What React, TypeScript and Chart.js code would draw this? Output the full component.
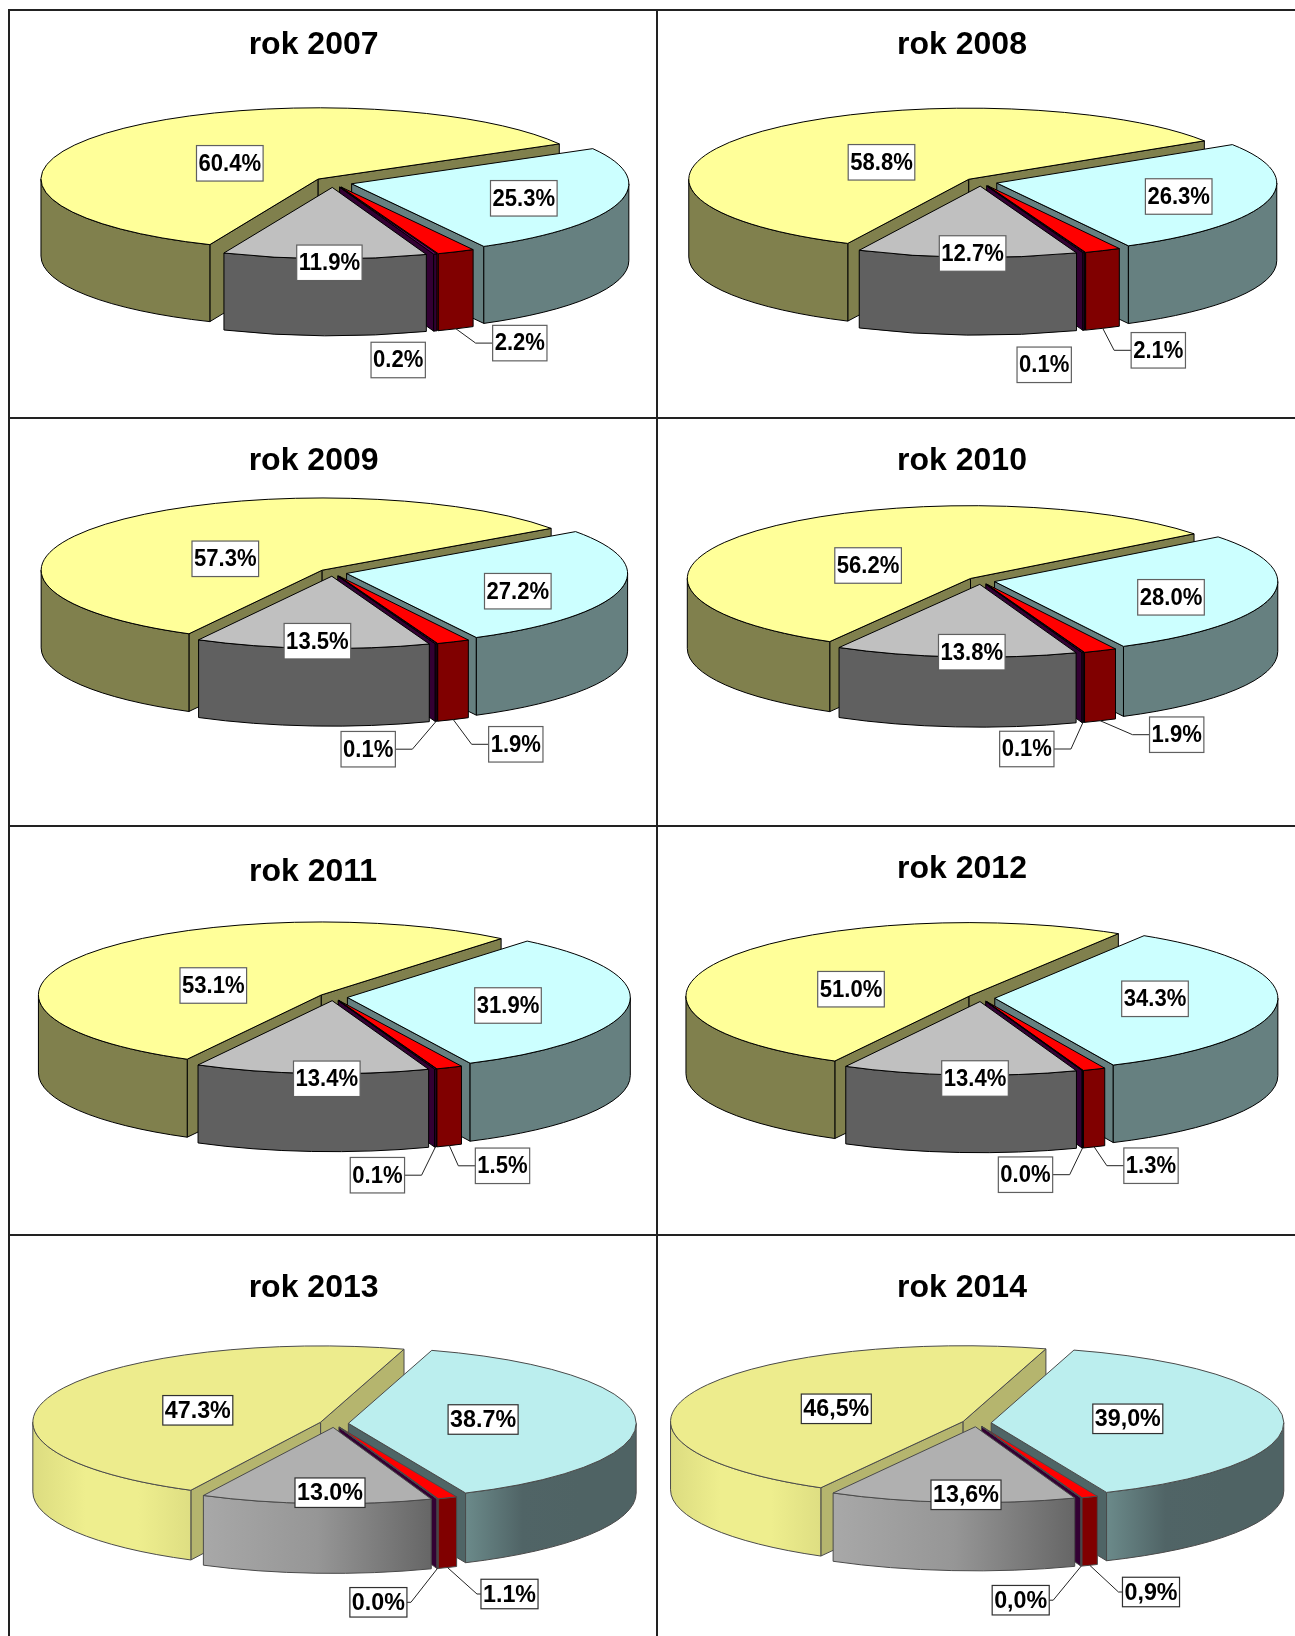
import React, { useEffect, useRef } from "react";
import { Chart, registerables } from "chart.js";

Chart.register(...registerables);

// ---- data ----
const categories = ["kategoria 1", "kategoria 2", "kategoria 3", "kategoria 4", "kategoria 5"];
const years = [2007, 2008, 2009, 2010, 2011, 2012, 2013, 2014];
const values2007 = [60.4, 25.3, 2.2, 0.2, 11.9];
const values2008 = [58.8, 26.3, 2.1, 0.1, 12.7];
const values2009 = [57.3, 27.2, 1.9, 0.1, 13.5];
const values2010 = [56.2, 28.0, 1.9, 0.1, 13.8];
const values2011 = [53.1, 31.9, 1.5, 0.1, 13.4];
const values2012 = [51.0, 34.3, 1.3, 0.04, 13.4];
const values2013 = [47.3, 38.7, 1.1, 0.04, 13.0];
const values2014 = [46.5, 39.0, 0.9, 0.04, 13.6];
const allValues = [values2007, values2008, values2009, values2010, values2011, values2012, values2013, values2014];

// ---- layout (page pixels) ----
const panelLeft = [10, 658];
const panelTop = [11, 419, 827, 1236];
const panelBottom = [417, 825, 1234, 1636];
const panelRight = [656, 1295];
const titlePos = [[313.6, 45], [962, 45], [313.6, 461], [962, 461], [313, 872], [962, 869], [313.6, 1288.5], [962, 1288.5]];
// centre x, centre y, radius, squash, depth, explosion, rotation of first slice (deg)
const pieGeom = [
  [332.8, 182.4, 277.2, 0.257, 77, 19.6, 203],
  [981, 182, 280, 0.254, 77.7, 16.3, 205.6],
  [332.8, 572.6, 281, 0.257, 77.7, 14.2, 208.3],
  [981, 580.8, 283.2, 0.257, 70, 13.9, 209.8],
  [333.2, 997, 282.9, 0.258, 78, 14.3, 208.3],
  [981, 998, 283.1, 0.26, 77.5, 13.8, 208.3],
  [334, 1423.6, 287.8, 0.265, 69.7, 14.4, 206.8],
  [976.6, 1423, 292.6, 0.259, 68.3, 14.6, 209.1],
];
// label box centres, slice order: yellow, cyan, red, purple, grey
const labelPos = [
  [[229.8, 163.3], [523.8, 198.3], [519.8, 343.1], [398.2, 360], [329.4, 262.8]],
  [[881.5, 162.3], [1178.7, 196.5], [1158.3, 350.3], [1044.2, 364.8], [972.6, 253.5]],
  [[225.3, 558.8], [517.8, 591.2], [515.8, 744.3], [368.2, 749.2], [317.4, 641.2]],
  [[868.1, 565.5], [1171, 597.3], [1176.7, 734.7], [1026.8, 749], [971.8, 652.2]],
  [[213.3, 985.5], [508, 1005.5], [502.5, 1165.8], [377.4, 1175.2], [326.8, 1078.8]],
  [[851, 989.2], [1155, 998.8], [1151, 1165.7], [1025.5, 1174.7], [975, 1078.5]],
  [[197.8, 1410.3], [483.1, 1419.5], [509.5, 1594], [378.4, 1602.3], [330, 1492.7]],
  [[836.3, 1408.8], [1127.8, 1418.8], [1151, 1592], [1020.7, 1600.2], [966, 1494.8]],
];
const purpleLeader = [false, false, true, true, true, true, true, true];
const decimalComma = [false, false, false, false, false, false, false, true];

// ---- styles ----
const flatStyle = {
  top: ["#FFFF99", "#CCFFFF", "#FF0000", "#660066", "#C0C0C0"],
  side: ["#80804D", "#668080", "#800000", "#330033", "#606060"],
  rim: [["#80804D"], ["#668080"], ["#800000"], ["#330033"], ["#606060"]],
  edge: "#000000",
  edgeW: 1,
  font: 23,
  squeeze: 0.96,
  boxH: 35.5,
  elbow: 17,
  boxEdge: "#606060",
};
const softStyle = {
  top: ["#EDEC8D", "#BBEEEE", "#FF0000", "#660066", "#B0B0B0"],
  side: ["#B5B56E", "#4F6566", "#800000", "#330033", "#707070"],
  rim: [
    ["#DCDC80", "#EEEE8E", "#EEEE8E", "#DEDE82"],
    ["#6B8A8A", "#506466", "#4F6364", "#4F6364"],
    ["#800000"],
    ["#330033"],
    ["#A8A8A8", "#969696", "#666666"],
  ],
  edge: "#4A4A4A",
  edgeW: 1,
  font: 24,
  squeeze: 0.97,
  boxH: 29.5,
  elbow: 4,
  boxEdge: "#303030",
};

const TAU = Math.PI * 2;

function makePlugin(i: number) {
  const [gx, gy, R, k, h, e] = pieGeom[i];
  const st = i >= 6 ? softStyle : flatStyle;
  const ox = panelLeft[i % 2];
  const oy = panelTop[Math.floor(i / 2)];
  const cx = gx - ox;
  const cy = gy - oy;
  return {
    id: "pie3d",
    beforeDatasetsDraw(chart: any) {
      const ctx = chart.ctx;
      const arcs = chart.getDatasetMeta(0).data;

      arcs.forEach((el: any, s: number) => {
        const a0 = el.startAngle;
        const a1 = el.endAngle;
        const mid = (a0 + a1) / 2;
        const sx = cx + e * Math.cos(mid);
        const sy = cy + e * k * Math.sin(mid);
        const pt = (a: number) => [sx + R * Math.cos(a), sy + R * k * Math.sin(a)];
        ctx.save();
        ctx.lineJoin = "round";
        ctx.strokeStyle = st.edge;
        ctx.lineWidth = st.edgeW;

        const radial = (a: number) => {
          const [tx, ty] = pt(a);
          ctx.beginPath();
          ctx.moveTo(sx, sy);
          ctx.lineTo(tx, ty);
          ctx.lineTo(tx, ty + h);
          ctx.lineTo(sx, sy + h);
          ctx.closePath();
          ctx.fillStyle = st.side[s];
          ctx.fill();
          ctx.stroke();
        };
        if (Math.cos(a0) < 0) radial(a0);
        if (Math.cos(a1) > 0) radial(a1);

        for (let n = -1; n <= 1; n++) {
          const lo = Math.max(a0, n * TAU);
          const hi = Math.min(a1, n * TAU + Math.PI);
          if (hi <= lo) continue;
          const xa = sx + R * Math.cos(lo);
          const xb = sx + R * Math.cos(hi);
          const stops = st.rim[s];
          let fill: any = stops[0];
          if (stops.length > 1) {
            fill = ctx.createLinearGradient(Math.min(xa, xb), 0, Math.max(xa, xb), 0);
            stops.forEach((c: string, j: number) => fill.addColorStop(j / (stops.length - 1), c));
          }
          ctx.beginPath();
          ctx.ellipse(sx, sy, R, R * k, 0, lo, hi, false);
          ctx.ellipse(sx, sy + h, R, R * k, 0, hi, lo, true);
          ctx.closePath();
          ctx.fillStyle = fill;
          ctx.fill();
          ctx.stroke();
        }

        // top face: the library's own arc element, squashed
        const f = R / el.outerRadius;
        ctx.save();
        ctx.translate(sx, sy);
        ctx.scale(f, f * k);
        ctx.translate(-el.x, -el.y);
        el.draw(ctx);
        ctx.restore();

        ctx.beginPath();
        ctx.moveTo(sx, sy);
        ctx.ellipse(sx, sy, R, R * k, 0, a0, a1, false);
        ctx.closePath();
        ctx.stroke();
        ctx.restore();
      });

      // labels and leader lines
      ctx.save();
      ctx.font = `bold ${st.font}px "Liberation Sans", Arial, sans-serif`;
      ctx.textAlign = "center";
      ctx.textBaseline = "middle";
      arcs.forEach((el: any, s: number) => {
        const mid = (el.startAngle + el.endAngle) / 2;
        const sx = cx + e * Math.cos(mid);
        const sy = cy + e * k * Math.sin(mid);
        let txt = allValues[i][s].toFixed(1);
        if (decimalComma[i]) txt = txt.replace(".", ",");
        txt += "%";
        const w = ctx.measureText(txt).width * st.squeeze + 4;
        const bx = labelPos[i][s][0] - ox;
        const by = labelPos[i][s][1] - oy;
        const small = s === 2 || s === 3;
        if (small && (s === 2 || purpleLeader[i])) {
          const lx = sx + R * Math.cos(mid);
          const ly = sy + R * k * Math.sin(mid) + h;
          const dir = bx > lx ? -1 : 1;
          const edgeX = bx + dir * (w / 2);
          ctx.beginPath();
          ctx.moveTo(lx, ly);
          ctx.lineTo(edgeX + dir * st.elbow, by);
          ctx.lineTo(edgeX, by);
          ctx.strokeStyle = "#222222";
          ctx.lineWidth = 1;
          ctx.stroke();
        }
        ctx.fillStyle = "#FFFFFF";
        ctx.fillRect(bx - w / 2, by - st.boxH / 2, w, st.boxH);
        ctx.strokeStyle = st.boxEdge;
        ctx.lineWidth = 1.2;
        ctx.strokeRect(bx - w / 2, by - st.boxH / 2, w, st.boxH);
        ctx.fillStyle = "#000000";
        ctx.save();
        ctx.translate(bx, by + 1);
        ctx.scale(st.squeeze, 1);
        ctx.fillText(txt, 0, 0);
        ctx.restore();
      });
      ctx.restore();

      // title
      ctx.save();
      ctx.font = 'bold 32px "Liberation Sans", Arial, sans-serif';
      ctx.textAlign = "center";
      ctx.textBaseline = "middle";
      ctx.fillStyle = "#000000";
      ctx.fillText("rok " + years[i], titlePos[i][0] - ox, titlePos[i][1] - oy);
      ctx.restore();
      return false;
    },
  };
}

function Panel({ index }: { index: number }) {
  const ref = useRef<HTMLCanvasElement | null>(null);
  const col = index % 2;
  const row = Math.floor(index / 2);
  const w = panelRight[col] - panelLeft[col];
  const h = panelBottom[row] - panelTop[row];
  useEffect(() => {
    if (!ref.current) return;
    const st = index >= 6 ? softStyle : flatStyle;
    const chart = new Chart(ref.current, {
      type: "pie",
      data: {
        labels: categories,
        datasets: [{ data: allValues[index], backgroundColor: st.top, borderWidth: 0 }],
      },
      options: {
        responsive: false,
        maintainAspectRatio: false,
        animation: false,
        rotation: pieGeom[index][6],
        layout: { padding: 0 },
        plugins: { legend: { display: false }, tooltip: { enabled: false } },
      },
      plugins: [makePlugin(index)],
    } as any);
    return () => chart.destroy();
  }, [index]);
  return (
    <canvas
      ref={ref}
      width={w}
      height={h}
      style={{ position: "absolute", left: panelLeft[col], top: panelTop[row], width: w, height: h }}
    />
  );
}

const lineColor = "#222222";

export default function App() {
  return (
    <div style={{ position: "absolute", left: 0, top: 0, width: 1295, height: 1636, background: "#fff", overflow: "hidden" }}>
      {years.map((_, i) => (
        <Panel key={i} index={i} />
      ))}
      <div style={{ position: "absolute", left: 8, top: 9, width: 2, height: 1627, background: lineColor }} />
      <div style={{ position: "absolute", left: 656, top: 9, width: 2, height: 1627, background: lineColor }} />
      {[9, 417, 825, 1234].map((y) => (
        <div key={y} style={{ position: "absolute", left: 8, top: y, width: 1287, height: 2, background: lineColor }} />
      ))}
    </div>
  );
}
